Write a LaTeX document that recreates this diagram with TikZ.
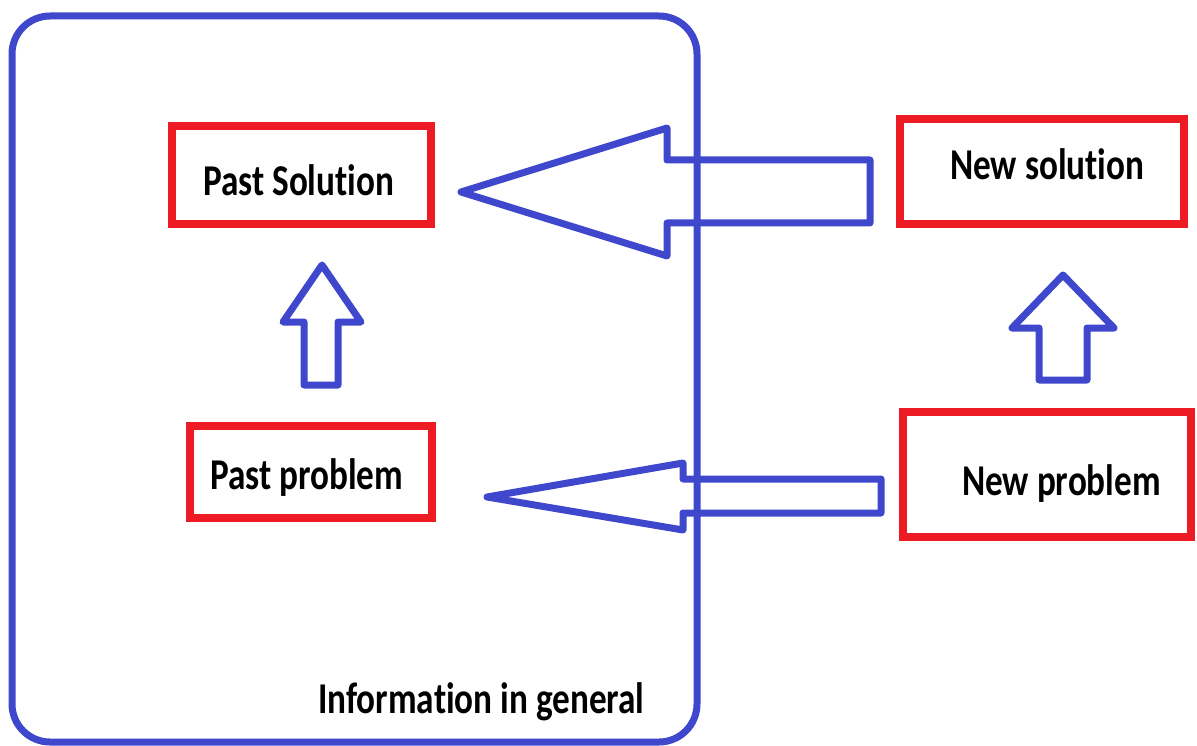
\documentclass[tikz,border=0pt]{standalone}
\usepackage{fontspec}
\setmainfont{Carlito}[Ligatures={NoCommon}]
\definecolor{pblue}{HTML}{3F48CC}
\definecolor{pred}{HTML}{ED1C24}
\tikzset{
  redbox/.style={draw=pred, line width=8pt, minimum width=#1, inner sep=0pt},
  lbl/.style={anchor=base west, inner sep=0pt, xscale=0.8, font=\fontsize{44}{50}\selectfont\bfseries},
  blockarrow/.style={draw=pblue, line width=7pt, line join=round}
}
\begin{document}
\begin{tikzpicture}[x=1pt,y=-1pt]
\useasboundingbox (0,0) rectangle (1197,746);
% general information region
\node[draw=pblue, line width=7pt, rounded corners=38pt, minimum width=685pt, minimum height=726pt, inner sep=0pt] (info) at (354.5,379) {};
\node[lbl] (infolbl) at (318,713) {Information in general};
% red boxes
\node[redbox=259pt, minimum height=98pt] (psbox) at (301.5,175) {};
\node[redbox=284pt, minimum height=105pt] (nsbox) at (1042,171.5) {};
\node[redbox=242pt, minimum height=92pt] (ppbox) at (311,472) {};
\node[redbox=288pt, minimum height=125pt] (npbox) at (1047,474.5) {};
% labels
\node[lbl] (pslbl) at (203,196) {Past Solution};
\node[lbl] (nslbl) at (950,180) {New solution};
\node[lbl] (pplbl) at (210,489) {Past problem};
\node[lbl] (nplbl) at (962,495) {New problem};
% block arrows
\draw[blockarrow] (461,192) -- (667,128) -- (667,160) -- (870,160) -- (870,223) -- (667,223) -- (667,256) -- cycle;
\draw[blockarrow] (487,497) -- (683,463) -- (683,479) -- (881,479) -- (881,513) -- (683,513) -- (683,530) -- cycle;
\draw[blockarrow] (322,265) -- (361,322) -- (338,322) -- (338,385) -- (304,385) -- (304,322) -- (283,322) -- cycle;
\draw[blockarrow] (1063,275) -- (1114,328) -- (1087,328) -- (1087,380) -- (1039,380) -- (1039,328) -- (1012,328) -- cycle;
\end{tikzpicture}
\end{document}
